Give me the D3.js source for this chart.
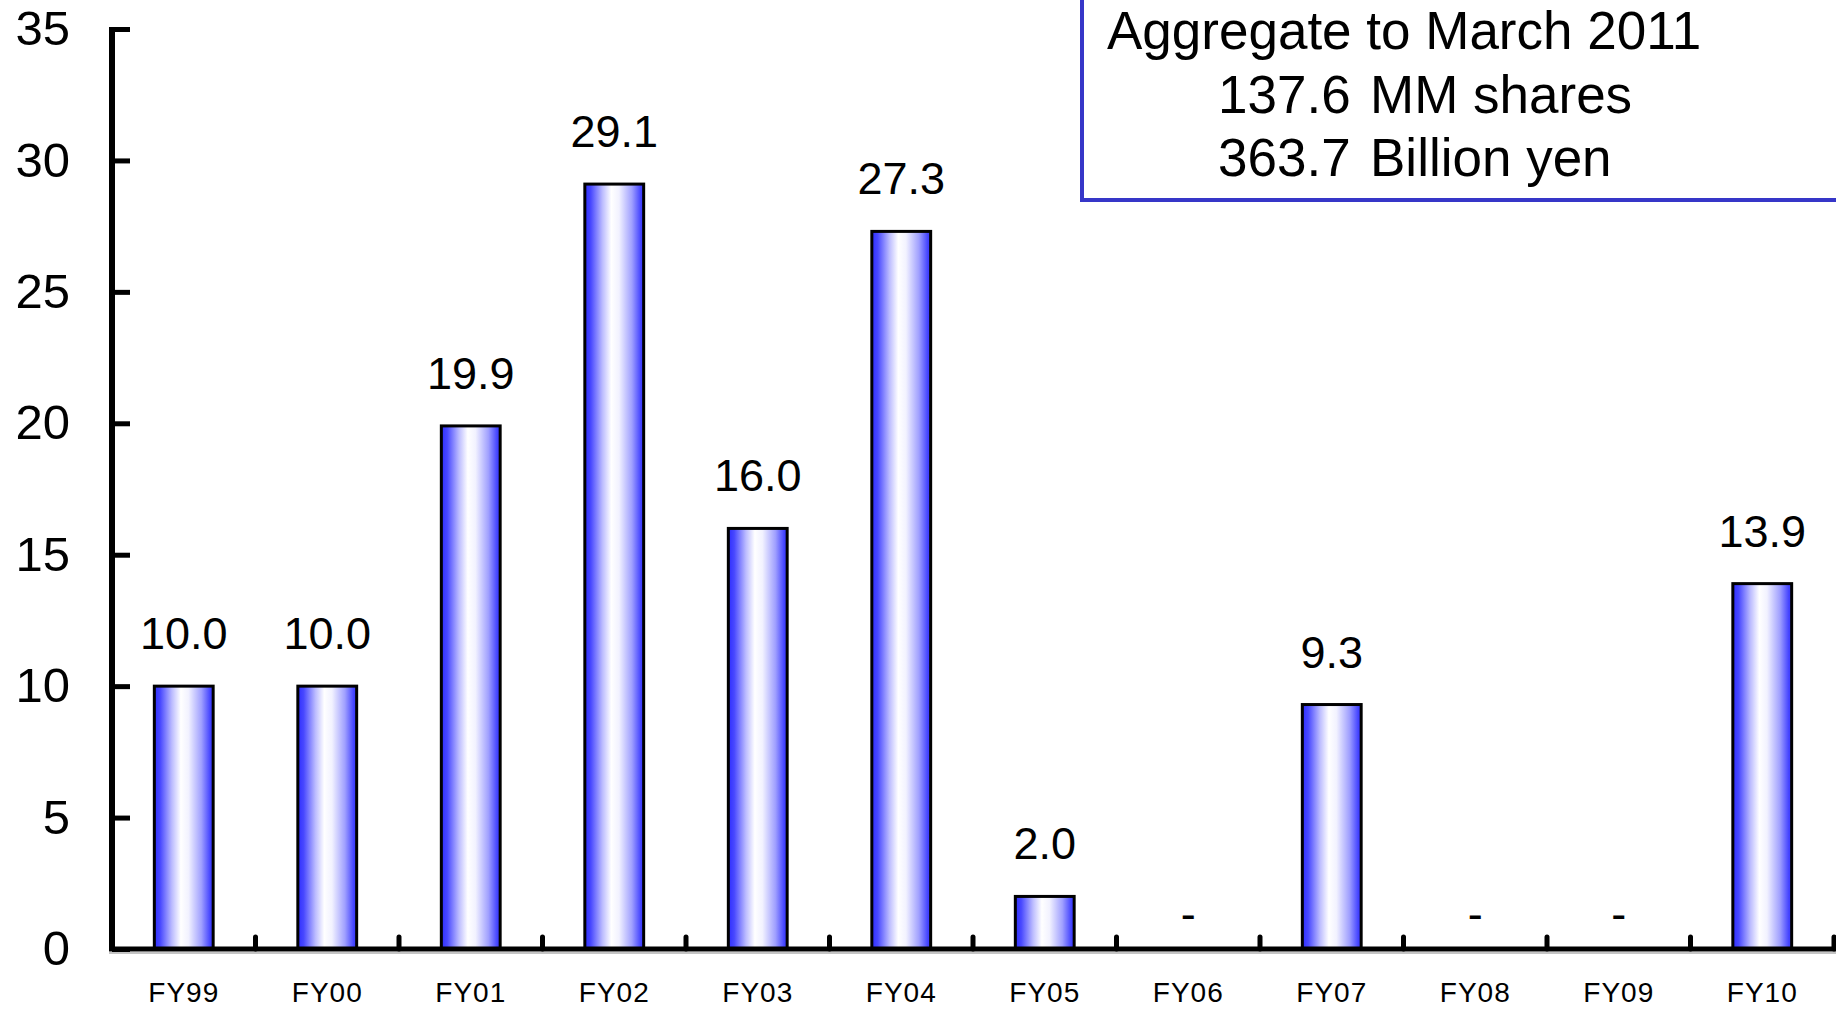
<!DOCTYPE html>
<html>
<head>
<meta charset="utf-8">
<script src="https://cdn.jsdelivr.net/npm/d3@7/dist/d3.min.js"></script>
<style>
  html, body { margin: 0; padding: 0; background: #ffffff; }
  svg { display: block; font-family: "Liberation Sans", Arial, Helvetica, sans-serif; }
</style>
</head>
<body>
<svg id="chart" width="1836" height="1009"></svg>
<script>
// Share buybacks by fiscal year (MM shares)
const years = ["FY99", "FY00", "FY01", "FY02", "FY03", "FY04", "FY05", "FY06", "FY07", "FY08", "FY09", "FY10"];
const shares = [10.0, 10.0, 19.9, 29.1, 16.0, 27.3, 2.0, 0, 9.3, 0, 0, 13.9];
const yTicks = [0, 5, 10, 15, 20, 25, 30, 35];
const summaryTitle = "Aggregate to March 2011";
const summaryNumbers = ["137.6", "363.7"];
const summaryUnits = ["MM shares", "Billion yen"];

const svg = d3.select("#chart");
const W = 1836, H = 1009;
const plot = { left: 112, right: 1834, top: 29, bottom: 949 };

const x = d3.scaleBand()
  .domain(years)
  .range([plot.left, plot.right])
  .paddingInner(0.59)
  .paddingOuter(0.295);

const y = d3.scaleLinear()
  .domain([0, 35])
  .range([plot.bottom, plot.top]);

// Horizontal blue-white-blue fill for the bars
const defs = svg.append("defs");
const grad = defs.append("linearGradient")
  .attr("id", "barFill")
  .attr("x1", "0%").attr("x2", "100%").attr("y1", "0%").attr("y2", "0%");
[
  [0, "#2e2eff"], [0.1, "#4848ff"], [0.3, "#bcbcff"], [0.45, "#ffffff"],
  [0.58, "#f2f2ff"], [0.8, "#a0a0ff"], [0.95, "#4444ff"], [1, "#3636ff"]
].forEach(([o, c]) => grad.append("stop").attr("offset", o).attr("stop-color", c));

// Summary box in the upper right
const box = svg.append("g");
box.append("rect")
  .attr("x", 1082).attr("y", -10)
  .attr("width", 800).attr("height", 210)
  .attr("fill", "#ffffff")
  .attr("stroke", "#3636c8").attr("stroke-width", 4);
box.append("text")
  .attr("x", 1107).attr("y", 49)
  .attr("font-size", 53).attr("fill", "#000")
  .text(summaryTitle);
summaryNumbers.forEach((n, i) => {
  const by = 113 + i * 63;
  box.append("text").attr("x", 1218).attr("y", by)
    .attr("font-size", 53).attr("fill", "#000").text(n);
  box.append("text").attr("x", 1370).attr("y", by)
    .attr("font-size", 53).attr("fill", "#000").text(summaryUnits[i]);
});

// Bars
svg.append("g").selectAll("rect")
  .data(years.map((d, i) => ({ year: d, v: shares[i] })).filter(d => d.v > 0))
  .join("rect")
  .attr("x", d => x(d.year))
  .attr("y", d => y(d.v))
  .attr("width", x.bandwidth())
  .attr("height", d => y(0) - y(d.v))
  .attr("fill", "url(#barFill)")
  .attr("stroke", "#000")
  .attr("stroke-width", 3);

// Value labels; empty years show a dash
svg.append("g").selectAll("text")
  .data(years.map((d, i) => ({ year: d, v: shares[i] })))
  .join("text")
  .attr("x", d => x(d.year) + x.bandwidth() / 2)
  .attr("y", d => d.v > 0 ? y(d.v) - 37 : y(0) - 20)
  .attr("text-anchor", "middle")
  .attr("font-size", 45)
  .attr("fill", "#000")
  .text(d => d.v > 0 ? d3.format(".1f")(d.v) : "-");

// Soft shadow under the baseline
svg.append("line")
  .attr("x1", plot.left - 3).attr("x2", W)
  .attr("y1", plot.bottom + 4).attr("y2", plot.bottom + 4)
  .attr("stroke", "#b0b0b0").attr("stroke-width", 1.5);

// Y axis with inward ticks
const yAxis = svg.append("g")
  .attr("transform", `translate(${plot.left},0)`)
  .call(d3.axisLeft(y).tickValues(yTicks).tickSize(-18).tickPadding(42));
yAxis.select(".domain")
  .attr("d", `M0,${plot.top - 2}V${plot.bottom}`)
  .attr("stroke", "#000").attr("stroke-width", 6);
yAxis.selectAll(".tick line").attr("stroke", "#000").attr("stroke-width", 5);
yAxis.selectAll(".tick text")
  .attr("font-size", 49).attr("fill", "#000")
  .attr("font-family", "'Liberation Sans', Arial, sans-serif");

// X axis: category labels under each band
const xAxis = svg.append("g")
  .attr("transform", `translate(0,${plot.bottom})`)
  .call(d3.axisBottom(x).tickSize(0).tickPadding(33));
xAxis.select(".domain").remove();
xAxis.selectAll(".tick text")
  .attr("font-size", 28).attr("fill", "#000")
  .attr("letter-spacing", 1)
  .attr("font-family", "'Liberation Sans', Arial, sans-serif");

// Baseline
svg.append("line")
  .attr("x1", plot.left - 3).attr("x2", W)
  .attr("y1", plot.bottom).attr("y2", plot.bottom)
  .attr("stroke", "#000").attr("stroke-width", 5);

// Category separators rising from the baseline, one at the right edge of each band
svg.append("g").selectAll("line")
  .data(years)
  .join("line")
  .attr("x1", d => x(d) + x.bandwidth() / 2 + x.step() / 2)
  .attr("x2", d => x(d) + x.bandwidth() / 2 + x.step() / 2)
  .attr("y1", plot.bottom)
  .attr("y2", plot.bottom - 12)
  .attr("stroke", "#000").attr("stroke-width", 5)
  .attr("stroke-linecap", "round");
</script>
</body>
</html>
